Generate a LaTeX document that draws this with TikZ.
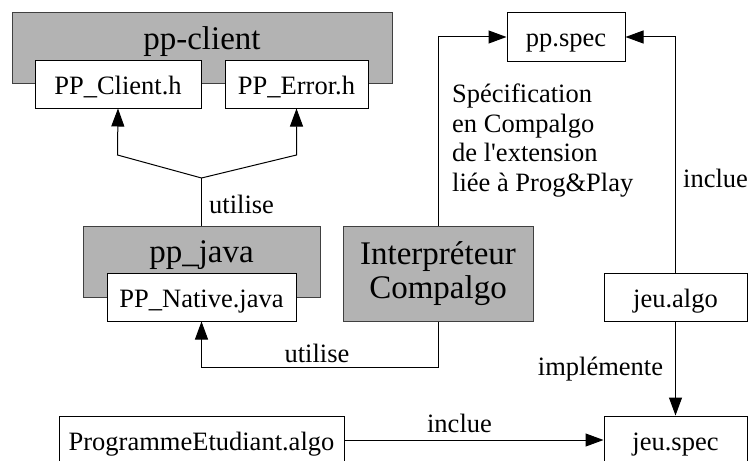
\documentclass[tikz,border=0pt]{standalone}
\usepackage{fontspec}
\setmainfont{Liberation Serif}[Ligatures=TeXOff]
\usetikzlibrary{arrows.meta,calc}
\definecolor{grpfill}{HTML}{B3B3B3}
\definecolor{grpline}{HTML}{404040}
\begin{document}
\begin{tikzpicture}[x=1pt,y=-1pt,
  txt/.style={font=\fontsize{26.5}{29.5}\selectfont, inner sep=0pt},
  bigtxt/.style={font=\fontsize{33}{34}\selectfont, inner sep=0pt},
  filebox/.style={draw=black, fill=white, line width=1pt, inner sep=0pt,
    font=\fontsize{26.5}{25}\selectfont, text height=22pt, text depth=2pt,
    minimum height=48pt},
  grpbox/.style={draw=grpline, fill=grpfill, line width=1pt, inner sep=0pt},
  conn/.style={line width=1pt},
  arr/.style={line width=1pt, -{Triangle[length=18pt,width=13pt]}}]
\useasboundingbox (0,0) rectangle (754,460);
\clip (0,0) rectangle (754,460);

% groups
\node[grpbox, minimum width=380pt, minimum height=70pt] (ppclient) at (202,48) {};
\node[bigtxt, anchor=base] (ppclientlbl) at (202,49) {pp-client};
\node[filebox, minimum width=166pt] (pcH) at (118,84) {PP\_Client.h};
\node[filebox, minimum width=143pt] (peH) at (296.5,84) {PP\_Error.h};

\node[grpbox, minimum width=237pt, minimum height=71pt] (ppjava) at (201.5,261.5) {};
\node[bigtxt, anchor=base] (ppjavalbl) at (201.5,262) {pp\_java};
\node[filebox, minimum width=189pt] (native) at (201.5,297) {PP\_Native.java};

\node[grpbox, bigtxt, minimum width=190pt, minimum height=95pt, align=center] (interp) at (438,273.5) {Interpréteur\\Compalgo};

\node[filebox, minimum width=118pt] (ppspec) at (566,37) {pp.spec};
\node[filebox, minimum width=143pt] (jeualgo) at (675.5,297) {jeu.algo};
\node[filebox, minimum width=143pt] (jeuspec) at (675.5,440) {jeu.spec};
\node[filebox, minimum width=285pt] (prog) at (201.5,440) {ProgrammeEtudiant.algo};

% connectors
\coordinate (jn) at (201.5,178);
\coordinate (bl) at (117.5,155);
\coordinate (br) at (296.5,155);
\coordinate (ylow) at (0,367);
\draw[conn] (ppjava.north) -- (jn);
\draw[arr] (jn) -- (bl) -- (pcH.south);
\draw[arr] (jn) -- (br) -- (peH.south);
\draw[arr] (interp.south) -- (interp.south |- ylow) -| (native.south);
\draw[arr] (interp.north) |- (ppspec.west);
\draw[arr] (jeualgo.north) |- (ppspec.east);
\draw[arr] (jeualgo.south) -- (jeuspec.north);
\draw[arr] (prog.east) -- (jeuspec.west);

% labels
\node[txt, anchor=base west] (lutil1) at (209,213) {utilise};
\node[txt, anchor=base] (lutil2) at (317,362) {utilise};
\node[txt, anchor=north west, align=left] (lspec) at (452,84) {Spécification\\en Compalgo\\de l'extension\\liée à Prog\&Play};
\node[txt, anchor=base west] (lincl1) at (683,187) {inclue};
\node[txt, anchor=base] (limpl) at (600.5,375) {implémente};
\node[txt, anchor=base] (lincl2) at (459.5,432) {inclue};
\end{tikzpicture}
\end{document}
